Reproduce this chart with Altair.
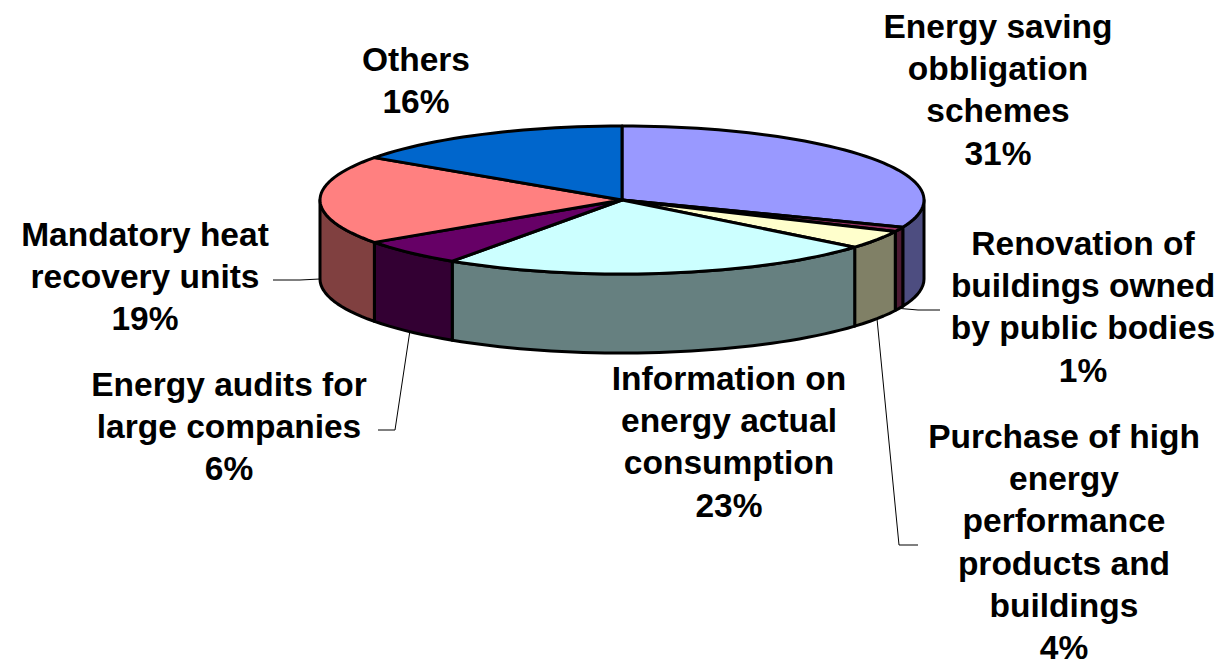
import numpy as np
import pandas as pd
import altair as alt

categories = ["Energy saving obbligation schemes", "Renovation of buildings owned by public bodies",
              "Purchase of high energy performance products and buildings",
              "Information on energy actual consumption", "Energy audits for large companies",
              "Mandatory heat recovery units", "Others"]
values = [31, 1, 4, 23.5, 5.8, 19.4, 15.3]
top_colors = ["#9999FF", "#993366", "#FFFFCC", "#CCFFFF", "#660066", "#FF8080", "#0066CC"]
side_colors = ["#4D4D80", "#4D1A33", "#808066", "#668080", "#330033", "#804040", "#003366"]
label_text = ["Energy saving\nobbligation\nschemes\n31%",
              "Renovation of\nbuildings owned\nby public bodies\n1%",
              "Purchase of high\nenergy\nperformance\nproducts and\nbuildings\n4%",
              "Information on\nenergy actual\nconsumption\n23%",
              "Energy audits for\nlarge companies\n6%",
              "Mandatory heat\nrecovery units\n19%",
              "Others\n16%"]
label_x = [998, 1083, 1064, 729, 229, 145, 416]
label_y = [28, 245, 438, 380, 386, 236, 61]
# leader elbows: (category index, elbow point, end point)
leader_idx = [1, 2, 4, 5]
leader_elbow = [(918, 310), (899, 545), (395, 430), (300, 280)]
leader_end = [(940, 310), (918, 545), (378, 430), (273, 280)]

CX, CY, RX, RY, DEPTH = 622, 200, 302, 74, 79
W, H = 1210, 653


def ell(deg, dy=0):
    a = np.radians(deg)
    return CX + RX * np.sin(a), CY - RY * np.cos(a) + dy


cum = np.cumsum([0] + values) / sum(values) * 360
top_rows, side_rows = [], []
for i, cat in enumerate(categories):
    a0, a1 = cum[i], cum[i + 1]
    n = max(3, int((a1 - a0) / 2))
    arc = np.linspace(a0, a1, n)
    pts = [(CX, CY)] + [ell(a) for a in arc]
    top_rows += [{"cat": cat, "x": p[0], "y": p[1], "o": k} for k, p in enumerate(pts)]
    s0, s1 = max(a0, 90), min(a1, 270)
    if s1 > s0:
        arc = np.linspace(s0, s1, max(3, int((s1 - s0) / 2)))
        pts = [ell(a) for a in arc] + [ell(a, DEPTH) for a in arc[::-1]]
        side_rows += [{"cat": cat, "x": p[0], "y": p[1], "o": k} for k, p in enumerate(pts)]

leader_rows = []
for j, i in enumerate(leader_idx):
    mid = (cum[i] + cum[i + 1]) / 2
    for k, p in enumerate([ell(mid, DEPTH), leader_elbow[j], leader_end[j]]):
        leader_rows.append({"cat": categories[i], "x": p[0], "y": p[1], "o": k})

X = alt.X("x:Q", axis=None, scale=alt.Scale(domain=[8, 8 + W], nice=False, zero=False))
Y = alt.Y("y:Q", axis=None, scale=alt.Scale(domain=[8 + H, 8], nice=False, zero=False))


def faces(rows, colors):
    return alt.Chart(pd.DataFrame(rows)).mark_line(
        interpolate="linear-closed", stroke="black", strokeWidth=3, strokeJoin="round"
    ).encode(
        x=X, y=Y, order="o:Q",
        fill=alt.Fill("cat:N", legend=None, scale=alt.Scale(domain=categories, range=colors)),
    )


leaders = alt.Chart(pd.DataFrame(leader_rows)).mark_line(
    stroke="black", strokeWidth=1
).encode(x=X, y=Y, order="o:Q", detail="cat:N")

labels = alt.Chart(pd.DataFrame({"t": label_text, "x": label_x, "y": label_y})).mark_text(
    font="Liberation Sans", fontWeight="bold", fontSize=33.5, lineBreak="\n", lineHeight=42.2,
    align="center", baseline="middle", color="black"
).encode(x=X, y=Y, text="t:N")

chart = alt.layer(leaders, faces(side_rows, side_colors), faces(top_rows, top_colors), labels).resolve_scale(
    fill="independent"
).properties(
    width=W, height=H, padding=0, autosize=alt.AutoSizeParams(type="none"), background="white"
).configure_view(stroke=None)

chart.save("out.html", embed_options={"renderer": "svg", "actions": False})
